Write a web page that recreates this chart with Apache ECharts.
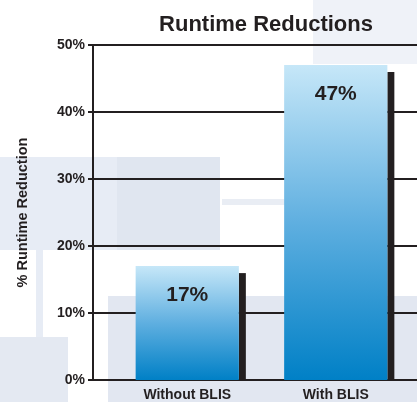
<!DOCTYPE html>
<html>
<head>
<meta charset="utf-8">
<script src="https://cdn.jsdelivr.net/npm/echarts@6/dist/echarts.min.js"></script>
<style>
  html, body { margin: 0; padding: 0; background: #ffffff; }
  #chart { width: 417px; height: 402px; background: #ffffff; }
</style>
</head>
<body>
<div id="chart"></div>
<script>
// Runtime reduction per configuration, in percent
const categories = ['Without BLIS', 'With BLIS'];
const reductions = [17, 47];
const yTicks = [0, 10, 20, 30, 40, 50];

const INK = '#231f20';
const FONT = '"Liberation Sans", Arial, Helvetica, sans-serif';

const chart = echarts.init(document.getElementById('chart'), null, { renderer: 'canvas' });

// Each bar: a sky-blue gradient block with a dark drop strip on its right side
function renderBar(params, api) {
  const value = api.value(1);
  const top = api.coord([api.value(0), value]);
  const base = api.coord([api.value(0), 0]);
  const bw = api.size([1, 0])[0] * 0.695;
  const x = top[0] - bw / 2;
  const h = base[1] - top[1];
  return {
    type: 'group',
    children: [
      {
        type: 'rect',
        shape: { x: x + bw, y: top[1] + 7, width: 7, height: h - 7 },
        style: { fill: INK }
      },
      {
        type: 'rect',
        shape: { x: x, y: top[1], width: bw, height: h },
        style: {
          fill: new echarts.graphic.LinearGradient(0, 0, 0, 1, [
            { offset: 0, color: '#c6e7f8' },
            { offset: 0.5, color: '#5fafe0' },
            { offset: 1, color: '#0080c6' }
          ])
        },
        textContent: {
          style: {
            text: value + '%',
            font: 'bold 21px ' + FONT,
            fill: INK
          }
        },
        textConfig: { position: 'insideTop', distance: 19 }
      }
    ]
  };
}

// Pale backdrop panels behind the plot
const backdrop = [
  { x: 313, y: 0, w: 104, h: 64, c: '#eff2f8' },
  { x: 0, y: 157, w: 220, h: 93, c: '#e7ecf5' },
  { x: 117, y: 157, w: 103, h: 93, c: '#e0e6f0' },
  { x: 36, y: 250, w: 7, h: 88, c: '#e7ecf5' },
  { x: 0, y: 337, w: 68, h: 65, c: '#e4e9f2' },
  { x: 108, y: 296, w: 309, h: 106, c: '#e2e7f1' },
  { x: 222, y: 199, w: 63, h: 6, c: '#e9edf4' }
];

chart.setOption({
  backgroundColor: 'transparent',
  animation: false,
  title: {
    text: 'Runtime Reductions',
    left: 261,
    top: 9,
    textAlign: 'center',
    textStyle: { fontFamily: FONT, fontWeight: 'bold', fontSize: 22, color: INK }
  },
  graphic: backdrop.map(b => ({
    type: 'rect',
    zlevel: -1,
    z: -10,
    silent: true,
    shape: { x: b.x, y: b.y, width: b.w, height: b.h },
    style: { fill: b.c }
  })),
  grid: [
    { left: 93, right: 0, top: 45, bottom: 22 },
    { left: 113, right: 7, top: 45, bottom: 22 }
  ],
  xAxis: [
    {
      type: 'category',
      gridIndex: 0,
      data: categories,
      axisLine: { show: true, lineStyle: { color: INK, width: 2 } },
      axisTick: { show: false },
      axisLabel: { show: false },
      splitLine: { show: false }
    },
    {
      type: 'category',
      gridIndex: 1,
      data: categories,
      axisLine: { show: false },
      axisTick: { show: false },
      axisLabel: {
        margin: 8,
        fontFamily: FONT,
        fontWeight: 'bold',
        fontSize: 14,
        color: INK
      }
    }
  ],
  yAxis: [
    {
      type: 'value',
      gridIndex: 0,
      min: yTicks[0],
      max: yTicks[yTicks.length - 1],
      interval: yTicks[1] - yTicks[0],
      name: '% Runtime Reduction',
      nameLocation: 'middle',
      nameGap: 63,
      nameTextStyle: { fontFamily: FONT, fontWeight: 'bold', fontSize: 14.5, color: INK },
      axisLine: { show: true, lineStyle: { color: INK, width: 2 } },
      axisTick: { show: true, length: 5, lineStyle: { color: INK, width: 2 } },
      axisLabel: {
        margin: 8,
        formatter: '{value}%',
        fontFamily: FONT,
        fontWeight: 'bold',
        fontSize: 14,
        color: INK
      },
      splitLine: { show: true, lineStyle: { color: INK, width: 2 } }
    },
    {
      type: 'value',
      gridIndex: 1,
      min: yTicks[0],
      max: yTicks[yTicks.length - 1],
      show: false
    }
  ],
  series: [
    {
      type: 'custom',
      xAxisIndex: 1,
      yAxisIndex: 1,
      renderItem: renderBar,
      encode: { x: 0, y: 1 },
      data: reductions.map((v, i) => [i, v]),
      z: 5
    }
  ]
});
</script>
</body>
</html>
